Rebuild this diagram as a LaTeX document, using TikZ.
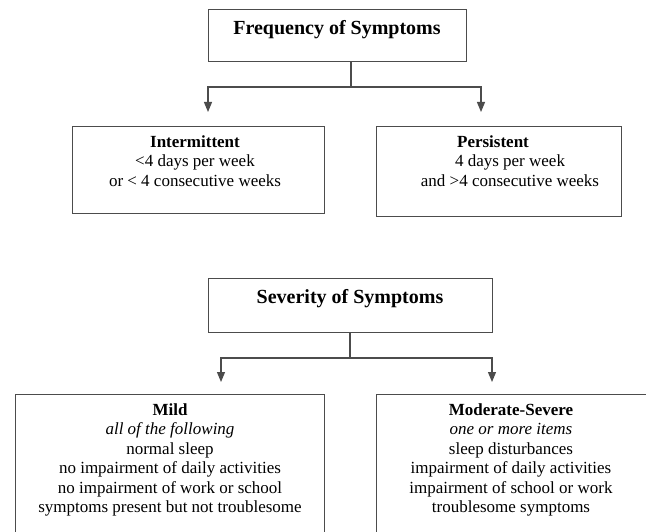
\documentclass[tikz,border=0pt]{standalone}
\usepackage{fontspec}
\setmainfont{Liberation Serif}
\usetikzlibrary{arrows.meta}
\definecolor{lc}{gray}{0.3}
\begin{document}
\begin{tikzpicture}[x=1pt,y=-1pt,
  box/.style={draw=lc, line width=1.1pt, inner sep=0pt, anchor=north west},
  ttl/.style={font=\fontsize{20}{24}\selectfont\bfseries, anchor=base, inner sep=0pt},
  body/.style={font=\fontsize{17}{19.4}\selectfont, align=center, anchor=north, inner sep=0pt},
  conn/.style={draw=lc, line width=1.1pt},
  arr/.style={conn, -{Triangle[width=8pt,length=10pt]}}]
\useasboundingbox (0,0) rectangle (646,532);
\fill[white] (0,0) rectangle (646,532);

% ---- Frequency ----
\node[box, minimum width=258pt, minimum height=52pt] (freq) at (208,9) {};
\node[ttl] (freqt) at (337,35) {Frequency of Symptoms};
\node[box, minimum width=252pt, minimum height=87pt] (inter) at (72,126) {};
\node[body] (intert) at (195,135.5) {\textbf{Intermittent}\\<4 days per week\\or < 4 consecutive weeks};
\node[box, minimum width=245pt, minimum height=90pt] (pers) at (376,126) {};
\node[body] (perst) at (510,135.5) {\textbf{Persistent}\hspace*{34pt}\\4 days per week\\and >4 consecutive weeks};

\coordinate (fj) at (351,87);
\coordinate (ia) at (208,112);
\coordinate (pa) at (481,112);
\draw[conn] (freq.south -| fj) -- (fj);
\draw[arr] (fj) -| (ia);
\draw[arr] (fj) -| (pa);

% ---- Severity ----
\node[box, minimum width=284pt, minimum height=54pt] (sev) at (208,278) {};
\node[ttl] (sevt) at (350,303) {Severity of Symptoms};
\node[box, minimum width=309pt, minimum height=170pt] (mild) at (15,394) {};
\node[body] (mildt) at (170,403.5) {\textbf{Mild}\\\textit{all of the following}\\normal sleep\\no impairment of daily activities\\no impairment of work or school\\symptoms present but not troublesome};
\node[box, minimum width=290pt, minimum height=170pt] (mod) at (376,394) {};
\node[body] (modt) at (511,403.5) {\textbf{Moderate-Severe}\\\textit{one or more items}\\sleep disturbances\\impairment of daily activities\\impairment of school or work\\troublesome symptoms};

\coordinate (sj) at (350,358);
\coordinate (ma) at (221,382);
\coordinate (da) at (492,382);
\draw[conn] (sev.south -| sj) -- (sj);
\draw[arr] (sj) -| (ma);
\draw[arr] (sj) -| (da);
\end{tikzpicture}
\end{document}
